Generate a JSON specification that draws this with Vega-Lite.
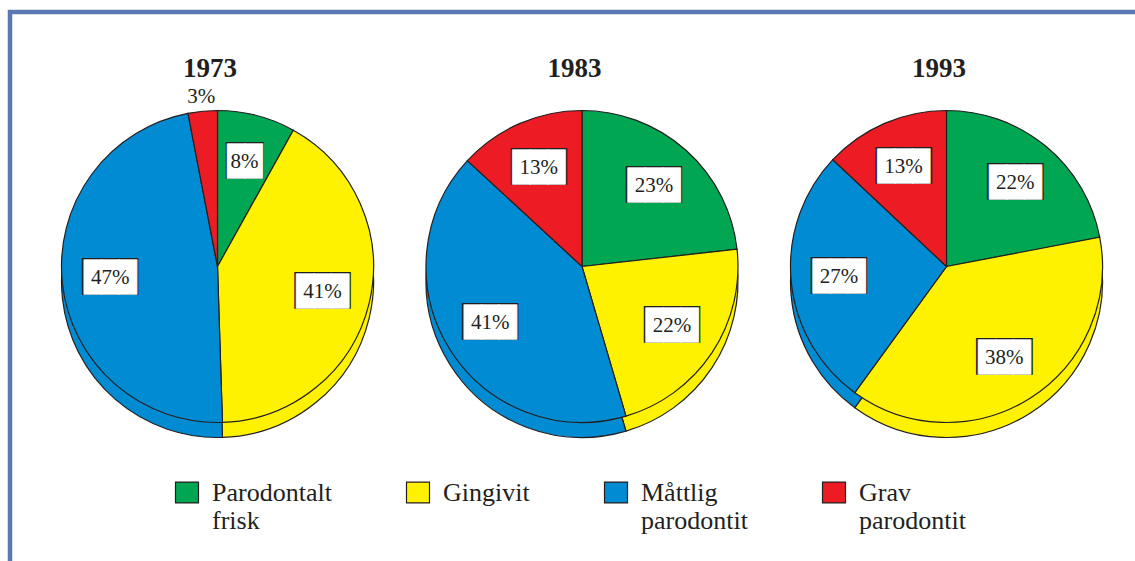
{
  "$schema": "https://vega.github.io/schema/vega-lite/v6.json",
  "width": 1125,
  "height": 549,
  "autosize": "none",
  "padding": {"left": 10, "top": 12, "right": 0, "bottom": 0},
  "background": "white",
  "data": {
    "values": [
      {"year": 1973, "cat": "Parodontalt frisk", "k": 1, "value": 0.08},
      {"year": 1973, "cat": "Gingivit", "k": 2, "value": 0.41},
      {"year": 1973, "cat": "Måttlig parodontit", "k": 3, "value": 0.47},
      {"year": 1973, "cat": "Grav parodontit", "k": 4, "value": 0.03},
      {"year": 1983, "cat": "Parodontalt frisk", "k": 1, "value": 0.23},
      {"year": 1983, "cat": "Gingivit", "k": 2, "value": 0.22},
      {"year": 1983, "cat": "Måttlig parodontit", "k": 3, "value": 0.41},
      {"year": 1983, "cat": "Grav parodontit", "k": 4, "value": 0.13},
      {"year": 1993, "cat": "Parodontalt frisk", "k": 1, "value": 0.22},
      {"year": 1993, "cat": "Gingivit", "k": 2, "value": 0.38},
      {"year": 1993, "cat": "Måttlig parodontit", "k": 3, "value": 0.27},
      {"year": 1993, "cat": "Grav parodontit", "k": 4, "value": 0.13}
    ]
  },
  "encoding": {
    "x": {
      "field": "year", "type": "ordinal",
      "scale": {"type": "point", "range": [207.5, 936.5], "padding": 0},
      "axis": {"orient": "top", "offset": -70, "domain": false, "ticks": false, "tickSize": 0, "labelPadding": 0, "labelOffset": -8, "grid": false, "title": null, "labelAngle": 0, "labelFont": "Liberation Serif", "labelFontSize": 27, "labelFontWeight": "bold", "labelColor": "#231f20"}
    },
    "theta": {"field": "value", "type": "quantitative", "stack": "normalize"},
    "order": {"field": "k", "type": "quantitative"}
  },
  "layer": [
    {
      "transform": [{"filter": "datum.year == 1973"}],
      "layer": [
        {"mark": {"type": "arc", "outerRadius": 156, "stroke": "#231f20", "strokeWidth": 1.2, "yOffset": -5},
         "encoding": {"color": {"field": "cat", "type": "nominal", "scale": {"domain": ["Parodontalt frisk", "Gingivit", "Måttlig parodontit", "Grav parodontit"], "range": ["#00a651", "#fff200", "#008bd2", "#ed1c24"]}, "legend": {"orient": "none", "legendX": 164, "legendY": 476, "direction": "horizontal", "columns": 4, "columnPadding": 72, "title": null, "labelExpr": "datum.label == 'Gingivit' ? ['Gingivit', ' '] : split(datum.label, ' ')"}}}},
        {"mark": {"type": "arc", "outerRadius": 156, "stroke": "#231f20", "strokeWidth": 1.2, "yOffset": -20},
         "encoding": {"color": {"field": "cat", "type": "nominal"}}},
        {"mark": {"type": "text", "radius": 108, "yOffset": -20, "font": "DejaVu Sans Mono", "fontSize": 31, "fill": "#231f20", "align": "center", "baseline": "middle"},
         "encoding": {"detail": {"field": "cat"}, "text": {"condition": [{"test": "datum.value < 0.05", "value": ""}, {"test": "datum.value < 0.1", "value": "██"}], "value": "███"}}},
        {"mark": {"type": "text", "radius": 108, "yOffset": -20, "font": "DejaVu Sans Mono", "fontSize": 29, "fill": "white", "stroke": "white", "strokeWidth": 0.6, "align": "center", "baseline": "middle"},
         "encoding": {"detail": {"field": "cat"}, "text": {"condition": [{"test": "datum.value < 0.05", "value": ""}, {"test": "datum.value < 0.1", "value": "██"}], "value": "███"}}},
        {"mark": {"type": "text", "radius": 108, "yOffset": -20, "font": "Liberation Serif", "fontSize": 21, "fill": "#231f20", "align": "center", "baseline": "middle"},
         "encoding": {"detail": {"field": "cat"}, "text": {"condition": {"test": "datum.value < 0.05", "value": ""}, "field": "value", "type": "quantitative", "format": ".0%"}}},
        {"mark": {"type": "text", "radius": 170, "yOffset": -20, "font": "Liberation Serif", "fontSize": 21, "fill": "#231f20", "align": "center", "baseline": "middle"},
         "encoding": {"detail": {"field": "cat"}, "text": {"condition": {"test": "datum.value >= 0.05", "value": ""}, "field": "value", "type": "quantitative", "format": ".0%"}}}
      ]
    },
    {
      "transform": [{"filter": "datum.year == 1983"}],
      "layer": [
        {"mark": {"type": "arc", "outerRadius": 156, "stroke": "#231f20", "strokeWidth": 1.2, "yOffset": -5},
         "encoding": {"color": {"field": "cat", "type": "nominal"}}},
        {"mark": {"type": "arc", "outerRadius": 156, "stroke": "#231f20", "strokeWidth": 1.2, "yOffset": -20},
         "encoding": {"color": {"field": "cat", "type": "nominal"}}},
        {"mark": {"type": "text", "radius": 108, "yOffset": -20, "font": "DejaVu Sans Mono", "fontSize": 31, "fill": "#231f20", "align": "center", "baseline": "middle"},
         "encoding": {"detail": {"field": "cat"}, "text": {"condition": [{"test": "datum.value < 0.05", "value": ""}, {"test": "datum.value < 0.1", "value": "██"}], "value": "███"}}},
        {"mark": {"type": "text", "radius": 108, "yOffset": -20, "font": "DejaVu Sans Mono", "fontSize": 29, "fill": "white", "stroke": "white", "strokeWidth": 0.6, "align": "center", "baseline": "middle"},
         "encoding": {"detail": {"field": "cat"}, "text": {"condition": [{"test": "datum.value < 0.05", "value": ""}, {"test": "datum.value < 0.1", "value": "██"}], "value": "███"}}},
        {"mark": {"type": "text", "radius": 108, "yOffset": -20, "font": "Liberation Serif", "fontSize": 21, "fill": "#231f20", "align": "center", "baseline": "middle"},
         "encoding": {"detail": {"field": "cat"}, "text": {"condition": {"test": "datum.value < 0.05", "value": ""}, "field": "value", "type": "quantitative", "format": ".0%"}}}
      ]
    },
    {
      "transform": [{"filter": "datum.year == 1993"}],
      "layer": [
        {"mark": {"type": "arc", "outerRadius": 156, "stroke": "#231f20", "strokeWidth": 1.2, "yOffset": -5},
         "encoding": {"color": {"field": "cat", "type": "nominal"}}},
        {"mark": {"type": "arc", "outerRadius": 156, "stroke": "#231f20", "strokeWidth": 1.2, "yOffset": -20},
         "encoding": {"color": {"field": "cat", "type": "nominal"}}},
        {"mark": {"type": "text", "radius": 108, "yOffset": -20, "font": "DejaVu Sans Mono", "fontSize": 31, "fill": "#231f20", "align": "center", "baseline": "middle"},
         "encoding": {"detail": {"field": "cat"}, "text": {"condition": [{"test": "datum.value < 0.05", "value": ""}, {"test": "datum.value < 0.1", "value": "██"}], "value": "███"}}},
        {"mark": {"type": "text", "radius": 108, "yOffset": -20, "font": "DejaVu Sans Mono", "fontSize": 29, "fill": "white", "stroke": "white", "strokeWidth": 0.6, "align": "center", "baseline": "middle"},
         "encoding": {"detail": {"field": "cat"}, "text": {"condition": [{"test": "datum.value < 0.05", "value": ""}, {"test": "datum.value < 0.1", "value": "██"}], "value": "███"}}},
        {"mark": {"type": "text", "radius": 108, "yOffset": -20, "font": "Liberation Serif", "fontSize": 21, "fill": "#231f20", "align": "center", "baseline": "middle"},
         "encoding": {"detail": {"field": "cat"}, "text": {"condition": {"test": "datum.value < 0.05", "value": ""}, "field": "value", "type": "quantitative", "format": ".0%"}}}
      ]
    }
  ],
  "config": {
    "font": "Liberation Serif",
    "view": {"stroke": "#5b78b3", "strokeWidth": 4.5, "strokeDash": [1125, 1674, 560]},
    "legend": {
      "symbolType": "M-1,-1.65H1V0.17H-1Z",
      "symbolSize": 529,
      "symbolStrokeColor": "#231f20",
      "symbolStrokeWidth": 1.2,
      "symbolOpacity": 1,
      "labelFont": "Liberation Serif",
      "labelFontSize": 26,
      "labelColor": "#231f20",
      "labelBaseline": "alphabetic",
      "labelLineHeight": 29,
      "labelOffset": 12,
      "labelLimit": 0,
      "padding": 0
    }
  }
}
